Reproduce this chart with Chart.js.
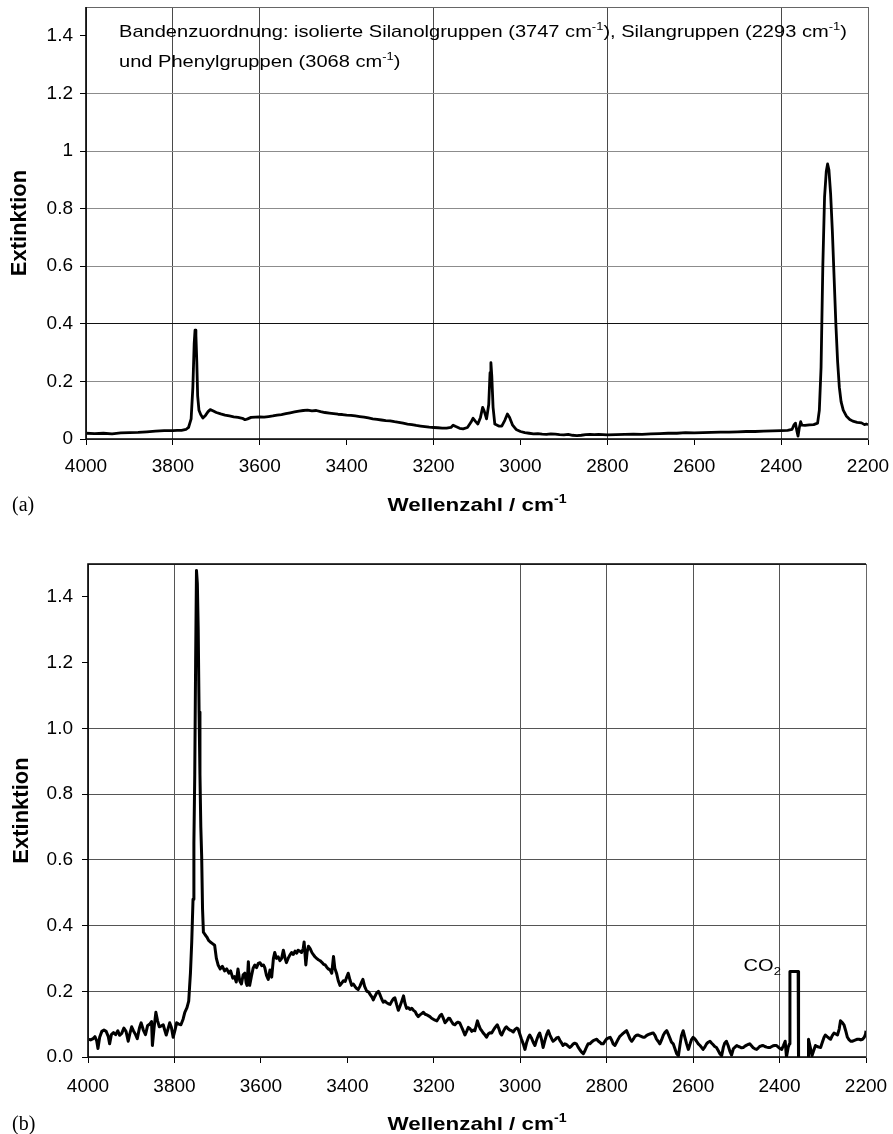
<!DOCTYPE html>
<html lang="de">
<head>
<meta charset="UTF-8">
<title>IR-Spektren</title>
<script src="https://cdn.jsdelivr.net/npm/chart.js"></script>
<style>
  body { margin: 0; background: #fff; }
  .wrap { position: relative; width: 893px; height: 1134px; }
  canvas { position: absolute; left: 0; }
  #spekA { top: 0; }
  #spekB { top: 530px; }
</style>
</head>
<body>
<div class="wrap">
  <canvas id="spekA" width="893" height="530"></canvas>
  <canvas id="spekB" width="893" height="604"></canvas>
</div>
<script>
// (a) Wellenzahl / Extinktion
const wnA = [
  4000, 3980, 3960, 3940, 3920, 3900, 3880, 3860, 3840, 3820, 3800, 3790, 3780, 3770, 3764, 3758,
  3754, 3751, 3749, 3747, 3745, 3743, 3740, 3736, 3731, 3725, 3719, 3714, 3708, 3700, 3690, 3680,
  3670, 3660, 3650, 3640, 3634, 3628, 3620, 3610, 3600, 3590, 3580, 3570, 3560, 3550, 3540, 3530,
  3520, 3510, 3500, 3490, 3480, 3470, 3460, 3450, 3440, 3430, 3420, 3410, 3400, 3390, 3380, 3370,
  3360, 3350, 3340, 3330, 3320, 3310, 3300, 3290, 3280, 3270, 3260, 3250, 3240, 3230, 3220, 3210,
  3200, 3190, 3180, 3170, 3160, 3155, 3150, 3140, 3132, 3122, 3114, 3109, 3104, 3098, 3092, 3087,
  3083, 3078, 3073, 3070, 3068, 3066, 3063, 3059, 3050, 3043, 3036, 3030, 3025, 3018, 3010, 3000,
  2990, 2980, 2970, 2960, 2950, 2940, 2930, 2920, 2910, 2900, 2890, 2880, 2870, 2860, 2850, 2840,
  2830, 2820, 2810, 2800, 2780, 2760, 2740, 2720, 2700, 2680, 2660, 2640, 2620, 2600, 2580, 2560,
  2540, 2520, 2500, 2480, 2460, 2440, 2420, 2400, 2385, 2375, 2370, 2367, 2364, 2361, 2358, 2355,
  2352, 2345, 2335, 2325, 2316, 2312, 2308, 2304, 2300, 2296, 2293, 2290, 2286, 2282, 2278, 2274,
  2270, 2266, 2262, 2257, 2250, 2242, 2235, 2225, 2215, 2208, 2204, 2200
];
const extA = [
  0.020, 0.019, 0.020, 0.018, 0.021, 0.022, 0.023, 0.025, 0.027, 0.029, 0.029, 0.030, 0.030, 0.033, 0.040, 0.070,
  0.180, 0.330, 0.378, 0.360, 0.270, 0.150, 0.100, 0.085, 0.073, 0.082, 0.095, 0.102, 0.098, 0.092, 0.087, 0.083,
  0.080, 0.077, 0.075, 0.072, 0.067, 0.070, 0.075, 0.076, 0.077, 0.076, 0.078, 0.080, 0.083, 0.085, 0.088, 0.091,
  0.094, 0.097, 0.099, 0.100, 0.098, 0.099, 0.095, 0.092, 0.090, 0.088, 0.086, 0.085, 0.083, 0.082, 0.080, 0.078,
  0.076, 0.073, 0.070, 0.068, 0.066, 0.064, 0.063, 0.060, 0.058, 0.055, 0.052, 0.050, 0.047, 0.045, 0.043, 0.041,
  0.040, 0.039, 0.038, 0.038, 0.040, 0.048, 0.044, 0.037, 0.035, 0.040, 0.058, 0.072, 0.062, 0.052, 0.075, 0.110,
  0.095, 0.070, 0.120, 0.230, 0.265, 0.220, 0.110, 0.052, 0.045, 0.045, 0.065, 0.087, 0.075, 0.048, 0.033, 0.026,
  0.022, 0.020, 0.018, 0.019, 0.017, 0.016, 0.018, 0.017, 0.015, 0.014, 0.016, 0.013, 0.012, 0.013, 0.015, 0.016,
  0.015, 0.016, 0.015, 0.014, 0.015, 0.016, 0.017, 0.016, 0.018, 0.019, 0.020, 0.020, 0.022, 0.021, 0.022, 0.023,
  0.024, 0.024, 0.025, 0.026, 0.026, 0.027, 0.028, 0.029, 0.030, 0.033, 0.050, 0.055, 0.030, 0.010, 0.040, 0.060,
  0.048, 0.047, 0.049, 0.050, 0.055, 0.100, 0.250, 0.600, 0.840, 0.930, 0.955, 0.935, 0.850, 0.720, 0.560, 0.400,
  0.270, 0.180, 0.130, 0.100, 0.080, 0.068, 0.062, 0.058, 0.056, 0.050, 0.052, 0.050
];

// (b) Wellenzahl / Extinktion
const wnB = [
  4000, 3994, 3988, 3984, 3980, 3977, 3973, 3968, 3963, 3958, 3953, 3950, 3946, 3941, 3936, 3931,
  3927, 3922, 3917, 3912, 3907, 3903, 3899, 3895, 3890, 3886, 3881, 3877, 3872, 3867, 3862, 3857,
  3853, 3851, 3847, 3843, 3839, 3835, 3830, 3826, 3822, 3819, 3815, 3811, 3807, 3803, 3799, 3795,
  3790, 3785, 3780, 3776, 3771, 3767, 3763, 3760, 3757, 3755, 3753, 3751, 3749, 3747, 3745, 3743,
  3741, 3739, 3737, 3735, 3733, 3729, 3725, 3721, 3717, 3712, 3707, 3703, 3699, 3694, 3689, 3684,
  3679, 3674, 3670, 3665, 3661, 3657, 3653, 3649, 3645, 3641, 3637, 3634, 3632, 3629, 3626, 3622,
  3618, 3614, 3610, 3606, 3602, 3598, 3594, 3591, 3587, 3583, 3579, 3575, 3571, 3568, 3564, 3560,
  3556, 3552, 3548, 3544, 3541, 3537, 3533, 3529, 3525, 3521, 3517, 3514, 3510, 3506, 3502, 3500,
  3496, 3493, 3490, 3486, 3482, 3479, 3475, 3471, 3467, 3463, 3459, 3455, 3451, 3448, 3444, 3440,
  3436, 3432, 3429, 3425, 3421, 3417, 3413, 3409, 3405, 3401, 3398, 3394, 3390, 3386, 3382, 3378,
  3375, 3371, 3367, 3364, 3360, 3355, 3351, 3347, 3343, 3340, 3336, 3332, 3328, 3324, 3320, 3317,
  3313, 3309, 3305, 3301, 3297, 3293, 3290, 3286, 3282, 3278, 3274, 3270, 3267, 3263, 3259, 3255,
  3251, 3247, 3243, 3240, 3236, 3232, 3228, 3224, 3220, 3216, 3213, 3209, 3205, 3201, 3197, 3193,
  3189, 3186, 3182, 3178, 3174, 3170, 3166, 3163, 3159, 3155, 3151, 3147, 3144, 3140, 3136, 3132,
  3128, 3124, 3120, 3116, 3112, 3108, 3105, 3102, 3099, 3095, 3092, 3089, 3085, 3081, 3078, 3074,
  3070, 3066, 3062, 3058, 3053, 3049, 3046, 3043, 3039, 3035, 3032, 3028, 3024, 3020, 3016, 3012,
  3008, 3005, 3001, 2997, 2993, 2989, 2985, 2981, 2978, 2974, 2970, 2966, 2962, 2958, 2955, 2951,
  2947, 2943, 2939, 2935, 2931, 2927, 2924, 2920, 2916, 2912, 2908, 2904, 2901, 2897, 2893, 2889,
  2885, 2881, 2877, 2874, 2870, 2866, 2862, 2858, 2854, 2850, 2846, 2843, 2839, 2835, 2831, 2827,
  2823, 2819, 2815, 2812, 2808, 2804, 2800, 2796, 2792, 2788, 2785, 2781, 2777, 2773, 2770, 2766,
  2762, 2758, 2754, 2750, 2746, 2742, 2738, 2735, 2731, 2727, 2723, 2719, 2716, 2712, 2708, 2704,
  2700, 2696, 2692, 2688, 2685, 2681, 2677, 2673, 2669, 2665, 2661, 2657, 2653, 2650, 2646, 2642,
  2638, 2634, 2630, 2627, 2623, 2619, 2615, 2611, 2607, 2604, 2600, 2596, 2592, 2588, 2584, 2581,
  2577, 2573, 2569, 2565, 2561, 2557, 2554, 2550, 2546, 2542, 2538, 2534, 2530, 2527, 2523, 2519,
  2515, 2511, 2507, 2503, 2499, 2495, 2491, 2488, 2484, 2480, 2476, 2473, 2469, 2465, 2461, 2457,
  2453, 2449, 2446, 2442, 2438, 2434, 2430, 2426, 2422, 2418, 2415, 2411, 2407, 2403, 2399, 2395,
  2391, 2387, 2384, 2380, 2377, 2376, 2357, 2356, 2334, 2333, 2329, 2325, 2321, 2317, 2313, 2309,
  2305, 2301, 2297, 2294, 2290, 2286, 2282, 2278, 2274, 2270, 2266, 2262, 2259, 2255, 2251, 2247,
  2243, 2239, 2235, 2232, 2228, 2224, 2220, 2216, 2212, 2208, 2204, 2201, 2200
];
const extB = [
  0.054, 0.052, 0.056, 0.062, 0.050, 0.026, 0.060, 0.078, 0.082, 0.078, 0.062, 0.040, 0.068, 0.074, 0.068, 0.080,
  0.066, 0.072, 0.088, 0.078, 0.048, 0.072, 0.092, 0.080, 0.068, 0.056, 0.088, 0.104, 0.082, 0.068, 0.096, 0.100,
  0.108, 0.035, 0.090, 0.136, 0.110, 0.092, 0.095, 0.098, 0.080, 0.067, 0.085, 0.104, 0.090, 0.060, 0.080, 0.104,
  0.100, 0.098, 0.115, 0.136, 0.150, 0.170, 0.255, 0.350, 0.480, 0.650, 0.860, 1.200, 1.480, 1.440, 1.300, 1.050,
  0.860, 0.700, 0.610, 0.450, 0.380, 0.372, 0.365, 0.355, 0.350, 0.345, 0.340, 0.300, 0.280, 0.268, 0.276, 0.262,
  0.268, 0.255, 0.262, 0.240, 0.245, 0.228, 0.268, 0.232, 0.222, 0.250, 0.255, 0.225, 0.218, 0.290, 0.218, 0.245,
  0.270, 0.280, 0.272, 0.285, 0.287, 0.278, 0.280, 0.272, 0.248, 0.236, 0.265, 0.243, 0.300, 0.318, 0.300, 0.305,
  0.293, 0.300, 0.325, 0.300, 0.287, 0.300, 0.310, 0.318, 0.312, 0.322, 0.316, 0.325, 0.322, 0.318, 0.330, 0.350,
  0.280, 0.320, 0.337, 0.330, 0.318, 0.312, 0.305, 0.300, 0.296, 0.293, 0.288, 0.282, 0.280, 0.274, 0.268, 0.265,
  0.255, 0.306, 0.270, 0.255, 0.232, 0.218, 0.225, 0.232, 0.230, 0.245, 0.255, 0.235, 0.218, 0.222, 0.214, 0.208,
  0.205, 0.215, 0.228, 0.236, 0.215, 0.200, 0.198, 0.190, 0.182, 0.174, 0.185, 0.195, 0.200, 0.188, 0.175, 0.167,
  0.170, 0.165, 0.162, 0.160, 0.170, 0.178, 0.180, 0.160, 0.142, 0.155, 0.170, 0.186, 0.165, 0.148, 0.150, 0.145,
  0.148, 0.142, 0.138, 0.130, 0.123, 0.128, 0.132, 0.136, 0.130, 0.128, 0.126, 0.123, 0.118, 0.115, 0.112, 0.110,
  0.118, 0.125, 0.130, 0.118, 0.104, 0.110, 0.118, 0.117, 0.108, 0.100, 0.098, 0.104, 0.106, 0.104, 0.092, 0.080,
  0.067, 0.078, 0.090, 0.086, 0.078, 0.082, 0.080, 0.095, 0.110, 0.094, 0.085, 0.080, 0.072, 0.066, 0.060, 0.070,
  0.074, 0.073, 0.082, 0.090, 0.098, 0.085, 0.072, 0.067, 0.078, 0.088, 0.092, 0.086, 0.082, 0.080, 0.076, 0.084,
  0.088, 0.086, 0.070, 0.054, 0.040, 0.023, 0.045, 0.060, 0.067, 0.058, 0.045, 0.035, 0.052, 0.066, 0.073, 0.055,
  0.029, 0.050, 0.068, 0.080, 0.066, 0.055, 0.048, 0.052, 0.058, 0.060, 0.050, 0.042, 0.035, 0.040, 0.038, 0.033,
  0.029, 0.034, 0.040, 0.042, 0.040, 0.030, 0.022, 0.015, 0.010, 0.020, 0.032, 0.040, 0.040, 0.045, 0.050, 0.052,
  0.054, 0.048, 0.044, 0.040, 0.040, 0.048, 0.055, 0.058, 0.060, 0.050, 0.040, 0.035, 0.045, 0.055, 0.062, 0.067,
  0.072, 0.076, 0.080, 0.068, 0.055, 0.048, 0.055, 0.062, 0.066, 0.067, 0.064, 0.062, 0.060, 0.060, 0.065, 0.068,
  0.070, 0.072, 0.073, 0.065, 0.055, 0.048, 0.040, 0.052, 0.066, 0.075, 0.080, 0.068, 0.055, 0.045, 0.040, 0.025,
  0.010, 0.004, 0.040, 0.065, 0.080, 0.060, 0.040, 0.023, 0.040, 0.052, 0.060, 0.055, 0.048, 0.040, 0.035, 0.030,
  0.023, 0.030, 0.040, 0.045, 0.048, 0.042, 0.038, 0.032, 0.029, 0.020, 0.010, 0.004, 0.030, 0.042, 0.048, 0.035,
  0.018, 0.006, 0.025, 0.030, 0.035, 0.032, 0.030, 0.028, 0.029, 0.033, 0.036, 0.038, 0.040, 0.034, 0.028, 0.025,
  0.023, 0.028, 0.032, 0.034, 0.035, 0.032, 0.030, 0.029, 0.029, 0.032, 0.034, 0.035, 0.035, 0.030, 0.026, 0.023,
  0.035, 0.048, 0.000, 0.030, 0.040, 0.260, 0.260, -0.060, -0.060, 0.054, 0.030, 0.004, 0.020, 0.035, 0.032, 0.030,
  0.029, 0.045, 0.060, 0.067, 0.062, 0.058, 0.054, 0.065, 0.073, 0.070, 0.067, 0.085, 0.110, 0.105, 0.098, 0.080,
  0.060, 0.052, 0.048, 0.048, 0.050, 0.052, 0.054, 0.054, 0.052, 0.054, 0.060, 0.070, 0.080
];

const xTicks = [4000, 3800, 3600, 3400, 3200, 3000, 2800, 2600, 2400, 2200];
const yTicks = [0, 0.2, 0.4, 0.6, 0.8, 1.0, 1.2, 1.4];
// im Original sichtbare Gitterlinien
const gridXA = [3800, 3600, 3200, 2800, 2400];
const gridYA = [0.2, 0.4, 0.6, 0.8, 1.0, 1.2];
const gridXB = [3800, 3000, 2800, 2600, 2400];
const gridYB = [0.2, 0.4, 0.6, 0.8, 1.0];
const co2Wn = 2376, co2Ext = 0.26;

const FONT = '"Liberation Sans", Arial, sans-serif';
const STRETCH = 1.18;

// Text mit Hoch-/Tiefstellung zeichnen
function richText(ctx, x, y, parts, size, bold, align, stretch) {
  ctx.save();
  ctx.translate(x, y);
  ctx.scale(stretch, 1);
  const fontOf = s => (bold ? 'bold ' : '') + s + 'px ' + FONT;
  let w = 0;
  parts.forEach(p => {
    ctx.font = fontOf(p.s ? Math.round(size * 0.64) : size);
    w += ctx.measureText(p.t).width;
  });
  let cx = align === 'center' ? -w / 2 : align === 'right' ? -w : 0;
  ctx.textAlign = 'left';
  ctx.textBaseline = 'alphabetic';
  ctx.fillStyle = '#000';
  parts.forEach(p => {
    ctx.font = fontOf(p.s ? Math.round(size * 0.64) : size);
    const dy = p.s === 'sup' ? -size * 0.42 : p.s === 'sub' ? size * 0.25 : 0;
    ctx.fillText(p.t, cx, dy);
    cx += ctx.measureText(p.t).width;
  });
  ctx.restore();
}

const xTitle = [{ t: 'Wellenzahl / cm' }, { t: '-1', s: 'sup' }];

function frame(darkTop) {
  return {
    id: 'rahmen',
    afterDatasetsDraw(chart) {
      const { ctx, chartArea: a } = chart;
      ctx.save();
      ctx.strokeStyle = '#666';
      ctx.lineWidth = 1;
      ctx.strokeRect(a.left + 0.5, a.top + 0.5, a.width, a.height);
      ctx.strokeStyle = '#000';
      ctx.lineWidth = 1.6;
      ctx.beginPath();
      if (darkTop) {
        ctx.moveTo(a.right, a.top);
        ctx.lineTo(a.left, a.top);
      } else {
        ctx.moveTo(a.left, a.top);
      }
      ctx.lineTo(a.left, a.bottom);
      ctx.lineTo(a.right, a.bottom);
      ctx.stroke();
      ctx.restore();
    }
  };
}

function labels(tag, titleBase, drawExtra) {
  return {
    id: 'beschriftung',
    afterDraw(chart) {
      const { ctx, chartArea: a } = chart;
      richText(ctx, (a.left + a.right) / 2, titleBase, xTitle, 19, true, 'center', STRETCH);
      ctx.save();
      ctx.font = '20px "Liberation Serif", "Times New Roman", serif';
      ctx.fillStyle = '#000';
      ctx.textBaseline = 'alphabetic';
      ctx.fillText(tag, 12, titleBase);
      ctx.restore();
      if (drawExtra) drawExtra(chart);
    }
  };
}

function makeChart(id, wn, ext, o) {
  return new Chart(document.getElementById(id), {
    type: 'line',
    data: {
      datasets: [{
        data: wn.map((w, i) => ({ x: w, y: ext[i] })),
        borderColor: '#000',
        borderWidth: o.lw,
        borderJoinStyle: 'round',
        pointRadius: 0,
        tension: 0,
        fill: false
      }]
    },
    options: {
      responsive: false,
      animation: false,
      events: [],
      layout: { padding: { left: 0, right: o.right, top: o.top, bottom: 0 } },
      plugins: { legend: { display: false }, tooltip: { enabled: false } },
      scales: {
        x: {
          type: 'linear',
          reverse: true,
          min: 2200,
          max: 4000,
          afterBuildTicks: ax => { ax.ticks = xTicks.map(v => ({ value: v })); },
          afterFit: s => { s.height = o.xHeight; s.paddingLeft = 0; s.paddingRight = 0; },
          border: { display: false },
          grid: {
            color: c => o.gridX.includes(c.tick.value) ? o.xGridColor : 'rgba(0,0,0,0)',
            tickColor: '#000',
            tickLength: 6,
            lineWidth: 1
          },
          ticks: {
            color: '#000',
            font: { family: FONT, size: 19 },
            padding: o.xPad,
            maxRotation: 0,
            autoSkip: false,
            callback: v => String(v)
          }
        },
        y: {
          min: 0,
          max: 1.5,
          afterBuildTicks: ax => { ax.ticks = yTicks.map(v => ({ value: v })); },
          afterFit: s => { s.width = o.yWidth; s.paddingTop = 0; s.paddingBottom = 0; },
          border: { display: false },
          grid: {
            color: c => o.gridY.includes(c.tick.value) ? o.yGridColor(c.tick.value) : 'rgba(0,0,0,0)',
            tickColor: '#000',
            tickLength: 6,
            lineWidth: 1
          },
          ticks: {
            color: '#000',
            font: { family: FONT, size: 19 },
            padding: o.yPad,
            autoSkip: false,
            callback: o.fmt
          },
          title: {
            display: true,
            text: 'Extinktion',
            color: '#000',
            font: { family: FONT, size: 22, weight: 'bold' },
            padding: { top: o.tPad, bottom: 0 }
          }
        }
      }
    },
    plugins: [frame(o.darkTop), labels(o.tag, o.titleBase, o.extra)]
  });
}

const annotA1 = [
  { t: 'Bandenzuordnung: isolierte Silanolgruppen (3747 cm' }, { t: '-1', s: 'sup' },
  { t: '), Silangruppen (2293 cm' }, { t: '-1', s: 'sup' }, { t: ')' }
];
const annotA2 = [{ t: 'und Phenylgruppen (3068 cm' }, { t: '-1', s: 'sup' }, { t: ')' }];

makeChart('spekA', wnA, extA, {
  lw: 2.8, right: 25, top: 7, xHeight: 91, yWidth: 86, xPad: 10, yPad: 7, tPad: 7,
  gridX: gridXA, gridY: gridYA, xGridColor: '#4a4a4a',
  yGridColor: v => v === 0.4 ? '#111' : '#8c8c8c',
  fmt: v => String(v), darkTop: false, tag: '(a)', titleBase: 511,
  extra: chart => {
    const a = chart.chartArea;
    richText(chart.ctx, a.left + 33, a.top + 30, annotA1, 17, false, 'left', STRETCH);
    richText(chart.ctx, a.left + 33, a.top + 60, annotA2, 17, false, 'left', STRETCH);
  }
});

makeChart('spekB', wnB, extB, {
  lw: 3, right: 27, top: 34, xHeight: 77, yWidth: 88, xPad: 12, yPad: 9, tPad: 9,
  gridX: gridXB, gridY: gridYB, xGridColor: '#555',
  yGridColor: () => '#555',
  fmt: v => v.toFixed(1), darkTop: true, tag: '(b)', titleBase: 600,
  extra: chart => {
    const { x, y } = chart.scales;
    richText(chart.ctx, x.getPixelForValue(co2Wn) - 9, y.getPixelForValue(co2Ext) - 1,
      [{ t: 'CO' }, { t: '2', s: 'sub' }], 17, false, 'right', STRETCH);
  }
});
</script>
</body>
</html>
